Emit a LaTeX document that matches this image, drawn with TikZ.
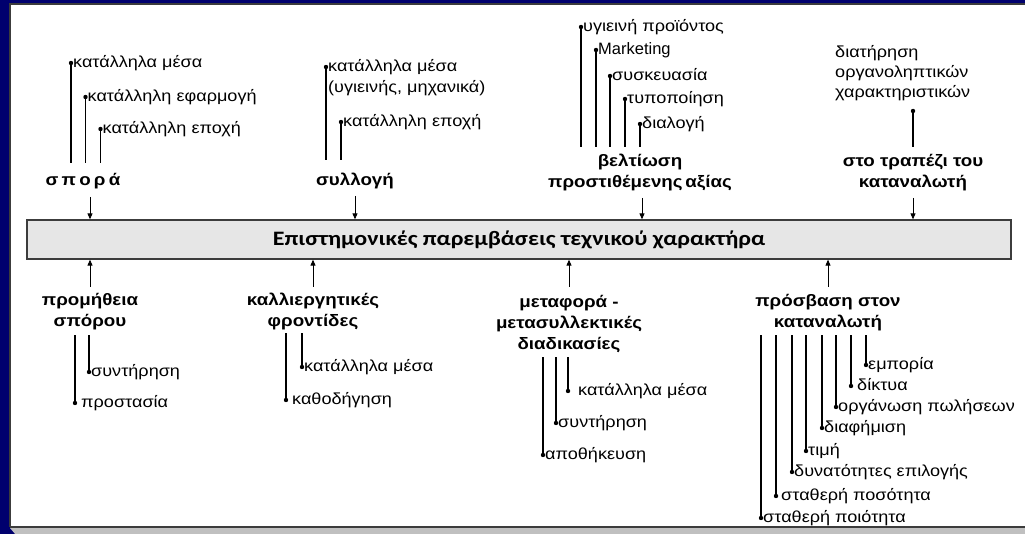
\documentclass[tikz,border=0pt]{standalone}
\usepackage{fontspec}
\setmainfont{Liberation Sans}[FakeStretch=1.13]
\newfontfamily\plainfont{Liberation Sans}
\newfontfamily\titlefont{Carlito}[FakeStretch=1.17]
\usetikzlibrary{arrows.meta}
\definecolor{navy}{RGB}{0,0,110}
\definecolor{barfill}{RGB}{230,230,230}
\definecolor{stripgray}{RGB}{192,192,192}
\definecolor{edgegray}{RGB}{60,60,60}
% #1 name, #2 x, #3 dot y, #4 other end y, #5 gap, #6 text
\newcommand\mkleaf[6]{%
  \node[leafdot] (#1) at (#2,#3) {};
  \coordinate (#1e) at (#2,#4);
  \node[leaf] (#1t) at ([xshift=#5pt,yshift=-4.5pt]#1.center) {#6};
  \draw[stem] (#1) -- (#1e);
}
\newcommand\lsp{\hspace{3.2pt}}
\begin{document}
\begin{tikzpicture}[x=1pt,y=-1pt,
  leafdot/.style={circle,fill=black,inner sep=0pt,minimum size=4.4pt},
  leaf/.style={anchor=base west,inner sep=0pt,font=\fontsize{16}{20}\selectfont},
  head/.style={align=center,inner sep=0pt,font=\fontsize{16.6}{21}\selectfont\bfseries},
  stem/.style={line width=1.2pt},
  flow/.style={line width=0.9pt,-{Triangle[length=6pt,width=5pt]}},
  bar/.style={draw=edgegray,line width=1.3pt,fill=barfill,minimum width=984pt,minimum height=39pt,inner sep=0pt,font=\titlefont\fontsize{20.5}{24}\selectfont\bfseries}
]
\useasboundingbox (0,0) rectangle (1025,534);
% frame
\fill[navy] (0,0) rectangle (1026,535);
\fill[white] (10,4) rectangle (1027,527);
\draw[edgegray,line width=1.2pt] (10,527) -- (10,4) -- (1027,4);
\draw[edgegray,line width=1.2pt] (10,527) -- (1027,527);
\fill[stripgray] (10,528) -- (1027,528) -- (1027,535) -- (16,535) -- cycle;

% central bar
\node[bar] (bar) at (519,239.5) {Επιστημονικές παρεμβάσεις τεχνικού χαρακτήρα};

% ---------- top: σπορά
\node[head] (spora) at (83,181) {σ\lsp π\lsp ο\lsp ρ\lsp ά};
\coordinate (sporaA) at (90,197);
\draw[flow] (sporaA) -- (sporaA |- bar.north);
\mkleaf{sp1}{71}{63}{163}{2}{κατάλληλα μέσα}
\mkleaf{sp2}{85.5}{97}{163}{2}{κατάλληλη εφαρμογή}
\mkleaf{sp3}{100.5}{129}{163}{2}{κατάλληλη εποχή}

% ---------- top: συλλογή
\node[head] (syllogi) at (355,181) {συλλογή};
\coordinate (syllogiA) at (355,196);
\draw[flow] (syllogiA) -- (syllogiA |- bar.north);
\mkleaf{sy1}{326}{67}{160}{2}{κατάλληλα μέσα}
\node[leaf] (sy1b) at ([yshift=-21pt]sy1t.base west) {(υγιεινής, μηχανικά)};
\mkleaf{sy2}{341}{122}{160}{2}{κατάλληλη εποχή}

% ---------- top: βελτίωση
\node[head] (veltiosi) at (640,172) {βελτίωση\\προστιθέμενης\,αξίας};
\coordinate (veltiosiA) at (642,198);
\draw[flow] (veltiosiA) -- (veltiosiA |- bar.north);
\mkleaf{ve1}{581}{27}{147}{2}{υγιεινή προϊόντος}
\mkleaf{ve2}{596}{50}{147}{2}{\plainfont\fontsize{16.5}{20}\selectfont Marketing}
\mkleaf{ve3}{610}{76}{147}{2}{συσκευασία}
\mkleaf{ve4}{625}{99}{147}{2}{τυποποίηση}
\mkleaf{ve5}{640}{124}{147}{2}{διαλογή}

% ---------- top: στο τραπέζι
\node[head] (trapezi) at (913,173) {στο τραπέζι του\\καταναλωτή};
\coordinate (trapeziA) at (913,198);
\draw[flow] (trapeziA) -- (trapeziA |- bar.north);
\node[leafdot] (tr1) at (913,111) {};
\coordinate (tr1e) at (913,147);
\node[anchor=north west,inner sep=0pt,align=left,font=\fontsize{16}{20}\selectfont] (tr1t) at (835,45) {διατήρηση\\οργανοληπτικών\\χαρακτηριστικών};
\draw[stem] (tr1) -- (tr1e);

% ---------- bottom: προμήθεια σπόρου
\node[head] (promitheia) at (90,312) {προμήθεια\\σπόρου};
\coordinate (promitheiaA) at (90,287);
\draw[flow] (promitheiaA) -- (promitheiaA |- bar.south);
\mkleaf{pr1}{89}{372}{335}{2}{συντήρηση}
\mkleaf{pr2}{75}{403}{335}{6}{προστασία}

% ---------- bottom: καλλιεργητικές φροντίδες
\node[head] (kalliergeia) at (313,311) {καλλιεργητικές\\φροντίδες};
\coordinate (kalliergeiaA) at (313,287);
\draw[flow] (kalliergeiaA) -- (kalliergeiaA |- bar.south);
\mkleaf{ka1}{302}{367}{333}{2}{κατάλληλα μέσα}
\mkleaf{ka2}{286}{400}{333}{6}{καθοδήγηση}

% ---------- bottom: μεταφορά
\node[head] (metafora) at (569,324) {μεταφορά -\\μετασυλλεκτικές\\διαδικασίες};
\coordinate (metaforaA) at (569,287);
\draw[flow] (metaforaA) -- (metaforaA |- bar.south);
\mkleaf{me1}{568}{391}{357}{10}{κατάλληλα μέσα}
\mkleaf{me2}{556}{423}{357}{2}{συντήρηση}
\mkleaf{me3}{543}{455}{357}{2}{αποθήκευση}

% ---------- bottom: πρόσβαση
\node[head] (prosvasi) at (828,313) {πρόσβαση στον\\καταναλωτή};
\coordinate (prosvasiA) at (828,287);
\draw[flow] (prosvasiA) -- (prosvasiA |- bar.south);
\mkleaf{ps1}{866}{365}{335}{2}{εμπορία}
\mkleaf{ps2}{851}{386}{335}{6}{δίκτυα}
\mkleaf{ps3}{836}{407}{335}{2}{οργάνωση πωλήσεων}
\mkleaf{ps4}{822}{428}{335}{2}{διαφήμιση}
\mkleaf{ps5}{806}{451}{335}{2}{τιμή}
\mkleaf{ps6}{792}{472}{335}{2}{δυνατότητες επιλογής}
\mkleaf{ps7}{776}{496}{335}{5}{σταθερή ποσότητα}
\mkleaf{ps8}{761}{518}{335}{2}{σταθερή ποιότητα}
\end{tikzpicture}
\end{document}
